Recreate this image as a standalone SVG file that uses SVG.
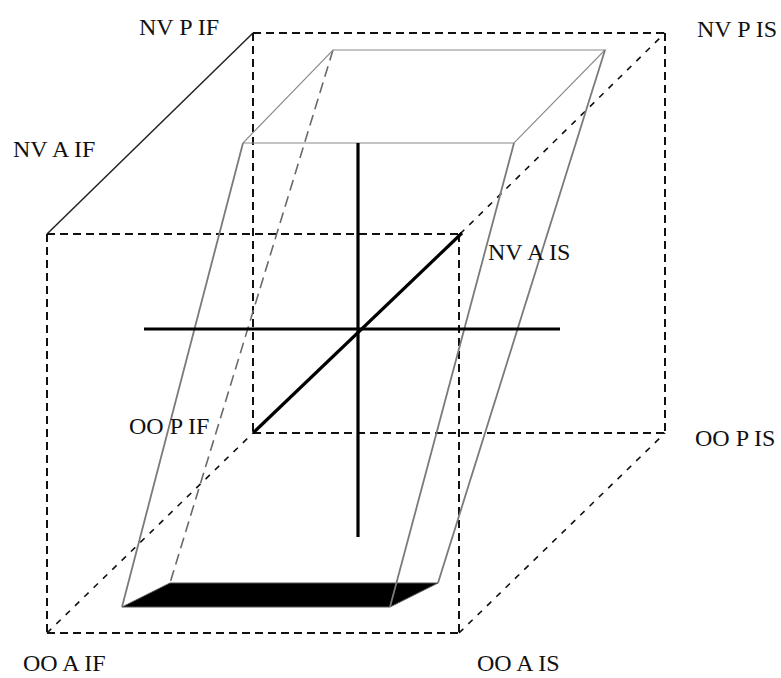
<svg xmlns="http://www.w3.org/2000/svg" width="781" height="678" viewBox="0 0 781 678">
<style>
.dash{fill:none;stroke:#111;stroke-width:2;stroke-dasharray:8 5}
.diag{fill:none;stroke:#111;stroke-width:1.6;stroke-dasharray:6 7}
.solid{fill:none;stroke:#222;stroke-width:1.5}
.gray{fill:none;stroke:#7a7a7a;stroke-width:1.8}
.thin{fill:none;stroke:#8a8a8a;stroke-width:1.1}
.gdash{fill:none;stroke:#6a6a6a;stroke-width:1.6;stroke-dasharray:11 6}
.axis{fill:none;stroke:#000;stroke-width:3.2}
.lbl{font-family:"Liberation Serif","Times New Roman",serif;font-size:24px;fill:#111}
</style>
<rect width="781" height="678" fill="#fff"/>
<g id="cube">
<line class="solid" x1="47" y1="234" x2="253" y2="33"/>
<line class="dash" x1="253" y1="33" x2="665" y2="33"/>
<line class="dash" x1="253" y1="33" x2="253" y2="433"/>
<line class="dash" x1="665" y1="33" x2="665" y2="432"/>
<line class="dash" x1="253" y1="433" x2="665" y2="433"/>
<line class="dash" x1="47" y1="234" x2="460" y2="234"/>
<line class="dash" x1="47" y1="234" x2="47" y2="633"/>
<line class="dash" x1="47" y1="633" x2="459" y2="633"/>
<line class="dash" x1="459" y1="234" x2="459" y2="633"/>
<line class="diag" x1="460" y1="234" x2="665" y2="33"/>
<line class="diag" x1="459" y1="633" x2="665" y2="433"/>
<line class="diag" x1="47" y1="633" x2="253" y2="433"/>
</g>
<g id="prism">
<polygon points="122,607 390,607 438,583 170,583" fill="#000" stroke="#555" stroke-width="1"/>
<line class="gdash" x1="333" y1="50" x2="170" y2="583"/>
<polyline class="thin" points="243,143 514,143 605,50 333,50 243,143"/>
<line class="gray" x1="243" y1="143" x2="122" y2="607"/>
<line class="gray" x1="514" y1="143" x2="390" y2="607"/>
<line class="gray" x1="605" y1="50" x2="438" y2="583"/>
</g>
<g id="axes">
<line class="axis" x1="358" y1="143" x2="358" y2="537"/>
<line class="axis" x1="144" y1="329" x2="560" y2="329"/>
<line class="axis" x1="253" y1="433" x2="462" y2="233" stroke-width="4.2"/>
</g>
<g id="labels">
<text class="lbl" x="139" y="35">NV P IF</text>
<text class="lbl" x="13" y="157">NV A IF</text>
<text class="lbl" x="697" y="37">NV P IS</text>
<text class="lbl" x="488" y="260">NV A IS</text>
<text class="lbl" x="129" y="434">OO P IF</text>
<text class="lbl" x="695" y="446">OO P IS</text>
<text class="lbl" x="23" y="671">OO A IF</text>
<text class="lbl" x="477" y="671">OO A IS</text>
</g>
</svg>
